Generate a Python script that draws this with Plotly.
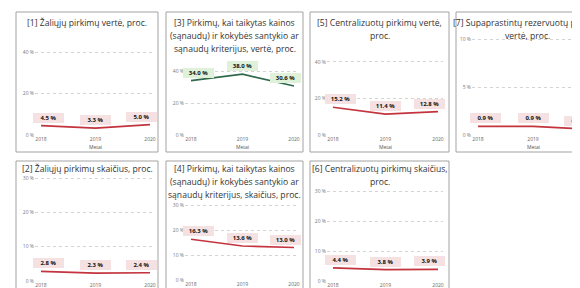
import plotly.graph_objects as go

W, H = 580, 288

years = [2018, 2019, 2020]
year_labels = ["2018", "2019", "2020"]
x_title = "Metai"

p1_title = ["[1] Žaliųjų pirkimų vertė, proc."]
p1_values = [4.5, 3.3, 5.0]
p2_title = ["[2] Žaliųjų pirkimų skaičius, proc."]
p2_values = [2.8, 2.3, 2.4]
p3_title = ["[3] Pirkimų, kai taikytas kainos", "(sąnaudų) ir kokybės santykio ar", "sąnaudų kriterijus, vertė, proc."]
p3_values = [34.0, 38.0, 30.6]
p4_title = ["[4] Pirkimų, kai taikytas kainos", "(sąnaudų) ir kokybės santykio ar", "sąnaudų kriterijus, skaičius, proc."]
p4_values = [16.3, 13.6, 13.0]
p5_title = ["[5] Centralizuotų pirkimų vertė,", "proc."]
p5_values = [15.2, 11.4, 12.8]
p6_title = ["[6] Centralizuotų pirkimų skaičius,", "proc."]
p6_values = [4.4, 3.8, 3.9]
p7_title = ["[7] Supaprastintų rezervuotų pirkimų", "vertė, proc."]
p7_values = [0.9, 0.9, 0.6]

RED, RED_BG = "#c3343f", "#f6e1e2"
GREEN, GREEN_BG = "#2f6a4c", "#e0f1da"

# column geometry (pixels): box left, box right, x of 2018, px per year, title centre
cols = {
    1: dict(bl=8, br=150, x0=33, ppy=54.5, tc=79),
    2: dict(bl=158, br=295, x0=183, ppy=51.5, tc=226.5),
    3: dict(bl=302, br=441, x0=325, ppy=52.5, tc=371.5),
    4: dict(bl=448, br=620, x0=470, ppy=55.0, tc=519),
}
rows = {
    1: dict(bt=4, bb=144, title_y=15, metai_y=139),
    2: dict(bt=153, bb=300, title_y=161, metai_y=282),
}

panels = [
    # title, values, color, bg, col, row, y0px, ppu, R, dtick
    (p1_title, p1_values, RED, RED_BG, 1, 1, 127, 2.075, 47, 20),
    (p3_title, p3_values, GREEN, GREEN_BG, 2, 1, 127, 1.6, 47, 20),
    (p5_title, p5_values, RED, RED_BG, 3, 1, 127, 1.825, 47, 20),
    (p7_title, p7_values, RED, RED_BG, 4, 1, 127, 9.6, 10.4, 5),
    (p2_title, p2_values, RED, RED_BG, 1, 2, 273, 3.43, 31, 10),
    (p4_title, p4_values, RED, RED_BG, 2, 2, 272, 2.5, 31, 10),
    (p6_title, p6_values, RED, RED_BG, 3, 2, 273, 3.0, 31, 10),
]

fig = go.Figure()
annotations = []
shapes = []
layout = {}

for i, (title, vals, color, bg, c, r, y0px, ppu, R, dtick) in enumerate(panels, start=1):
    cg, rg = cols[c], rows[r]
    left_px = cg["x0"] - 6
    right_px = min(cg["x0"] + 2 * cg["ppy"] + 5, cg["br"] - 2, W)
    xr = [2018 - 6 / cg["ppy"], 2018 + (right_px - cg["x0"]) / cg["ppy"]]
    top_px = y0px - R * ppu
    xd = [left_px / W, right_px / W]
    yd = [(H - y0px) / H, (H - top_px) / H]
    xn = "x" if i == 1 else f"x{i}"
    yn = "y" if i == 1 else f"y{i}"
    xk = "xaxis" if i == 1 else f"xaxis{i}"
    yk = "yaxis" if i == 1 else f"yaxis{i}"
    layout[xk] = dict(domain=xd, range=xr, anchor=yn, tickvals=years, ticktext=year_labels,
                      showgrid=False, zeroline=False, showline=False, ticks="", automargin=False,
                      tickfont=dict(size=5, color="#666666", family="Open Sans"), fixedrange=True)
    layout[yk] = dict(domain=yd, range=[0, R], anchor=xn, dtick=dtick, tick0=0, ticksuffix=" %",
                      showgrid=True, gridcolor="#d4d4d4", griddash="dot", gridwidth=1,
                      zeroline=False, showline=False, ticks="", automargin=False,
                      tickfont=dict(size=5, color="#777777", family="Open Sans"), fixedrange=True)
    fig.add_trace(go.Scatter(x=years, y=vals, xaxis=xn, yaxis=yn, mode="lines",
                             line=dict(color=color, width=1.7), showlegend=False, hoverinfo="skip"))
    for k, (yr, v) in enumerate(zip(years, vals)):
        xs = 7 if k == 0 else (-9 if k == 2 else 0)
        annotations.append(dict(x=yr, y=v, xref=xn, yref=yn, text=f"<b>{v:.1f} %</b>",
                                showarrow=False, xshift=xs, yshift=8, bgcolor=bg, borderpad=1,
                                borderwidth=0, width=29,
                                font=dict(size=6, color="#111111", family="Open Sans")))
    # panel box
    shapes.append(dict(type="rect", xref="paper", yref="paper",
                       x0=cg["bl"] / W, x1=cg["br"] / W,
                       y0=(H - rg["bb"]) / H, y1=(H - rg["bt"]) / H,
                       line=dict(color="#a3a3a3", width=1), fillcolor="rgba(0,0,0,0)", layer="below"))
    # title lines
    for j, line in enumerate(title):
        annotations.append(dict(x=cg["tc"] / W, y=(H - (rg["title_y"] + 13 * j)) / H,
                                xref="paper", yref="paper",
                                text=line, showarrow=False, xanchor="center", yanchor="middle",
                                font=dict(size=8.6, color="#333333", family="Open Sans")))
    # x-axis title
    annotations.append(dict(x=(cg["x0"] + cg["ppy"]) / W, y=(H - rg["metai_y"]) / H,
                            xref="paper", yref="paper", text=x_title, showarrow=False,
                            xanchor="center", yanchor="middle",
                            font=dict(size=5, color="#555555", family="Open Sans")))

fig.update_layout(template="none", width=W, height=H, autosize=False,
                  margin=dict(l=0, r=0, t=0, b=0, pad=0),
                  paper_bgcolor="white", plot_bgcolor="white",
                  annotations=annotations, shapes=shapes, **layout)

fig.write_html("out.html")
